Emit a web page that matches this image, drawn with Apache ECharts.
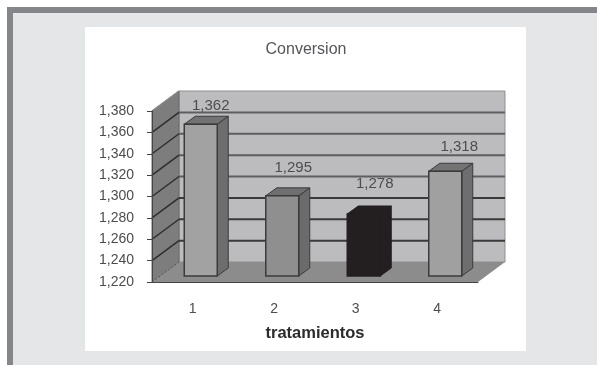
<!DOCTYPE html>
<html>
<head>
<meta charset="utf-8">
<script src="https://cdn.jsdelivr.net/npm/echarts@6/dist/echarts.min.js"></script>
<style>
  html, body { margin: 0; padding: 0; background: #fff; overflow: hidden; }
  #frame { position: absolute; left: 7px; top: 7px; width: 584px; height: 352px; background: #e5e6e8;
    border-left: 6px solid #85868a; border-top: 6px solid #85868a; }
  #panel { position: absolute; left: 85px; top: 27px; width: 441px; height: 324px; background: #fff; }
  #main { position: absolute; left: 0; top: 0; width: 597px; height: 365px; }
</style>
</head>
<body>
<div id="frame"></div>
<div id="panel"></div>
<div id="main"></div>
<script>
const categories = ["1", "2", "3", "4"];
const conversion = [1362, 1295, 1278, 1318];
const yTicks = [1220, 1240, 1260, 1280, 1300, 1320, 1340, 1360, 1380];

const barFaces = ["#a2a2a3", "#8f8f90", "#231f20", "#a0a0a1"];
const barTops = ["#727273", "#6f6f70", "#231f20", "#737374"];
const barSides = ["#6d6d6e", "#6b6b6c", "#231f20", "#6e6e6f"];
const labelShift = [[10, -18], [11, -28], [11, -30], [14, -24]];

const depthX = 27, depthY = -20;   // wall depth of the fake 3d box
const barX = 8, barY = -6;         // bars stand part way in
const barW = 33, barDX = 11, barDY = -8;

const fmt = (v) => v.toLocaleString("en-US");

function poly(points, fill, stroke, lineWidth) {
  return {
    type: "polygon",
    shape: { points: points },
    style: { fill: fill, stroke: stroke || null, lineWidth: lineWidth || 0 },
  };
}

function line(x1, y1, x2, y2, color, width, dash) {
  return {
    type: "line",
    shape: { x1: x1, y1: y1, x2: x2, y2: y2 },
    style: { stroke: color, lineWidth: width, lineDash: dash || null },
  };
}

function renderBox(params, api) {
  const band = api.size([1, 0])[0];
  const min = yTicks[0];
  const max = yTicks[yTicks.length - 1];
  const x0 = api.coord([0, min])[0] - band / 2;
  const x1 = api.coord([categories.length - 1, min])[0] + band / 2;
  const yB = api.coord([0, min])[1];
  const yT = api.coord([0, max])[1];
  const children = [
    poly([[x0 + depthX, yB + depthY], [x1 + depthX, yB + depthY], [x1 + depthX, yT + depthY], [x0 + depthX, yT + depthY]], "#bcbcbf", "#8f8f92", 1),
    poly([[x0, yB], [x0 + depthX, yB + depthY], [x0 + depthX, yT + depthY], [x0, yT]], "#7d7d7e", "#6a6a6b", 1),
    poly([[x0, yB], [x1, yB], [x1 + depthX, yB + depthY], [x0 + depthX, yB + depthY]], "#8c8c8d"),
  ];
  yTicks.forEach((t, i) => {
    const y = api.coord([0, t])[1];
    if (i > 0 && i < yTicks.length - 1) {
      const shade = i < 4 ? "#3a3a3b" : "#5e5e60";
      children.push(line(x0 + depthX, y + depthY, x1 + depthX, y + depthY, shade, 2));
    }
    if (i > 0) children.push(line(x0, y, x0 + depthX, y + depthY, i === yTicks.length - 1 ? "#8a8a8b" : "#2e2e2f", 1.5));
  });
  children.push(line(x0, yB, x0 + depthX, yB + depthY, "#555", 1, [2, 2]));
  return { type: "group", children: children };
}

function renderBar(params, api) {
  const i = api.value(0);
  const val = api.value(1);
  const top = api.coord([i, val]);
  const base = api.coord([i, yTicks[0]]);
  const l = top[0] - barW / 2 + barX;
  const r = l + barW;
  const t = top[1] + barY;
  const b = base[1] + barY;
  const dark = i === 2;
  const edge = dark ? "#231f20" : "#3b3b3c";
  return {
    type: "group",
    children: [
      poly([[r, t], [r + barDX, t + barDY], [r + barDX, b + barDY], [r, b]], barSides[i], edge, 1),
      poly([[l, t], [l + barDX, t + barDY], [r + barDX, t + barDY], [r, t]], barTops[i], edge, 1),
      poly([[l, t], [r, t], [r, b], [l, b]], barFaces[i], edge, 1.5),
      {
        type: "text",
        style: {
          x: top[0] + barX + labelShift[i][0],
          y: t + labelShift[i][1],
          text: fmt(val),
          fill: "#4d4d4f",
          font: "15px 'Liberation Sans', Arial, sans-serif",
          align: "center",
          verticalAlign: "middle",
        },
      },
    ],
  };
}

const myChart = echarts.init(document.getElementById("main"));
myChart.setOption({
  animation: false,
  backgroundColor: "transparent",
  textStyle: { fontFamily: "'Liberation Sans', Arial, sans-serif" },
  title: {
    text: "Conversion",
    left: 301,
    top: 37,
    textAlign: "center",
    textStyle: { fontSize: 16, fontWeight: "normal", color: "#55555a" },
  },
  grid: { left: 152, top: 111, width: 326, height: 171 },
  xAxis: {
    type: "category",
    data: categories,
    z: 5,
    name: "tratamientos",
    nameLocation: "middle",
    nameGap: 43,
    nameTextStyle: { fontSize: 16.5, fontWeight: "bold", color: "#2b2b2d" },
    axisLine: { lineStyle: { color: "#444", width: 1 } },
    axisTick: { length: 4, lineStyle: { color: "#444" } },
    axisLabel: { fontSize: 14, color: "#4d4d4f", margin: 20 },
  },
  yAxis: {
    type: "value",
    min: 1220,
    max: 1380,
    interval: 20,
    z: 5,
    axisLine: { show: true, lineStyle: { color: "#444", width: 1 } },
    axisTick: { show: true, length: 5, lineStyle: { color: "#444" } },
    axisLabel: { fontSize: 14, color: "#4d4d4f", margin: 18, formatter: (v) => fmt(v) },
    splitLine: { show: false },
  },
  series: [
    { type: "custom", silent: true, z: 1, data: [[0, yTicks[0]]], renderItem: renderBox, clip: false },
    {
      type: "custom",
      z: 2,
      data: conversion.map((v, i) => [i, v]),
      encode: { x: 0, y: 1 },
      renderItem: renderBar,
      clip: false,
    },
  ],
});
</script>
</body>
</html>
